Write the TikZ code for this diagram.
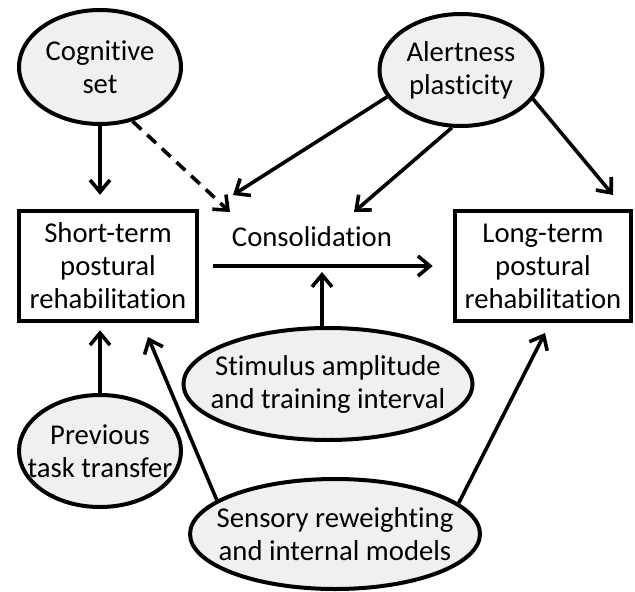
\documentclass[tikz,border=0pt]{standalone}
\usepackage{fontspec}
\setmainfont[Ligatures={NoCommon}]{Carlito}
\usetikzlibrary{arrows.meta,shapes.geometric}
\definecolor{ellfill}{RGB}{240,240,240}
\begin{document}
\begin{tikzpicture}[x=1pt,y=-1pt,
  every node/.style={font=\fontsize{28.7}{33}\selectfont, align=center},
  ell/.style={ellipse, draw, line width=4pt, fill=ellfill, inner sep=0pt},
  boxnode/.style={rectangle, draw, line width=4.5pt, inner sep=0pt, minimum height=110pt},
  arr/.style={line width=3.6pt, -{Straight Barb[length=12pt,width=20pt]}},
  dsh/.style={dash pattern=on 12pt off 8pt},
]
\useasboundingbox (0,0) rectangle (635,592);

\node[ell, minimum width=162pt, minimum height=114pt,
  label={center:Cognitive\\set}] (cog) at (100,67) {};
\node[ell, minimum width=163pt, minimum height=112pt,
  label={center:Alertness\\plasticity}] (alert) at (461,70) {};
\node[ell, minimum width=162pt, minimum height=112pt,
  label={center:Previous\\task transfer}] (prev) at (100,451) {};
\node[ell, minimum width=289pt, minimum height=112pt,
  label={center:Stimulus amplitude\\and training interval}] (stim) at (328,384) {};
\node[ell, minimum width=290pt, minimum height=110pt,
  label={center:Sensory reweighting\\and internal models}] (sens) at (335,534) {};

\node[boxnode, minimum width=178pt] (short) at (108,266) {Short-term\\postural\\rehabilitation};
\node[boxnode, minimum width=176pt] (long) at (543,266) {Long-term\\postural\\rehabilitation};
\node[anchor=base, inner sep=0pt] (cons) at (312,246) {Consolidation};

\coordinate (dtip) at (230,212);
\coordinate (atip) at (233,195);
\coordinate (btip) at (354,212);
\coordinate (ltip) at (613,195);
\coordinate (stip) at (322,272);
\coordinate (rtip1) at (148,337);
\coordinate (rtip2) at (545,333);

\draw[arr, shorten >=14pt] (cog.south) -- (cog.south |- short.north);
\draw[arr, dsh] (cog.-59) -- (dtip);
\draw[arr] (alert.200) -- (atip);
\draw[arr] (alert.261) -- (btip);
\draw[arr] (alert.-22) -- (ltip);
\draw[arr, shorten <=14pt, shorten >=20pt] (short.east) -- (long.west);
\draw[arr] (stim.north -| stip) -- (stip);
\draw[arr, shorten >=7pt] (prev.north) -- (prev.north |- short.south);
\draw[arr] (sens.164) -- (rtip1);
\draw[arr] (sens.14) -- (rtip2);
\end{tikzpicture}
\end{document}
